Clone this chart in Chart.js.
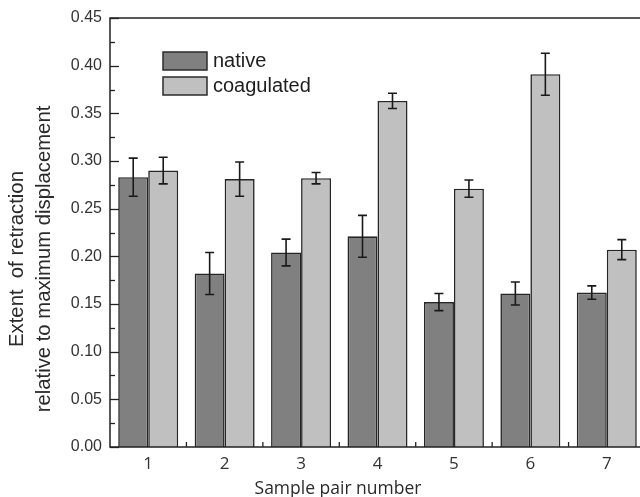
<!DOCTYPE html>
<html>
<head>
<meta charset="utf-8">
<script src="https://cdn.jsdelivr.net/npm/chart.js@4"></script>
<style>
  html, body { margin: 0; padding: 0; background: #fff; overflow: hidden; }
  #wrap { width: 640px; height: 497px; overflow: hidden; }
</style>
</head>
<body>
<div id="wrap"><canvas id="chart" width="650" height="497"></canvas></div>
<script>
const pairLabels = [ '1', '2', '3', '4', '5', '6', '7' ]
const nativeValues = [ 0.283, 0.182, 0.204, 0.221, 0.152, 0.161, 0.162 ]
const nativeErrors = [ 0.020, 0.022, 0.014, 0.022, 0.009, 0.012, 0.007 ]
const coagValues = [ 0.290, 0.281, 0.282, 0.363, 0.271, 0.391, 0.207 ]
const coagErrors = [ 0.014, 0.018, 0.006, 0.008, 0.009, 0.022, 0.0105 ]
const yTitle = [ 'Extent  of retraction', 'relative to maximum displacement' ]
const xTitle = 'Sample pair number'

// error bars, inward ticks, frame, axis titles and legend box
const extras = {
  id: 'extras',
  afterDatasetsDraw (chart) {
    const ctx = chart.ctx
    const { x, y } = chart.scales
    const area = chart.chartArea
    ctx.save()
    ctx.strokeStyle = '#1a1a1a'
    ctx.lineWidth = 1.6
    chart.data.datasets.forEach((ds, i) => {
      const meta = chart.getDatasetMeta(i)
      meta.data.forEach((bar, j) => {
        const v = ds.data[j], e = ds.errors[j]
        const top = y.getPixelForValue(v + e)
        const bot = y.getPixelForValue(v - e)
        ctx.beginPath()
        ctx.moveTo(bar.x, top); ctx.lineTo(bar.x, bot)
        ctx.moveTo(bar.x - 4.5, top); ctx.lineTo(bar.x + 4.5, top)
        ctx.moveTo(bar.x - 4.5, bot); ctx.lineTo(bar.x + 4.5, bot)
        ctx.stroke()
      })
    })

    // frame
    ctx.strokeStyle = '#222'
    ctx.lineWidth = 1.5
    ctx.strokeRect(area.left, area.top, area.right - area.left, area.bottom - area.top)

    // y ticks pointing inward
    ctx.lineWidth = 1.3
    for (let k = 0; k <= 18; k++) {
      const py = Math.round(y.getPixelForValue(k * 0.025)) + 0.5
      const len = k % 2 === 0 ? 9 : 5
      ctx.beginPath()
      ctx.moveTo(area.left, py); ctx.lineTo(area.left + len, py)
      ctx.stroke()
    }
    // x minor ticks between pairs
    for (let k = 0; k < pairLabels.length - 1; k++) {
      const px = (x.getPixelForValue(k) + x.getPixelForValue(k + 1)) / 2
      ctx.beginPath()
      ctx.moveTo(px, area.bottom); ctx.lineTo(px, area.bottom - 5)
      ctx.stroke()
    }

    // axis titles
    ctx.fillStyle = '#2a2a2a'
    ctx.textAlign = 'center'
    ctx.textBaseline = 'alphabetic'
    ctx.font = '17.5px "Open Sans", sans-serif'
    ctx.fillText(xTitle, 338, 494)
    ctx.font = '20.3px Arial, "Liberation Sans", sans-serif'
    yTitle.forEach((line, i) => {
      ctx.save()
      ctx.translate(23 + i * 27, 259)
      ctx.rotate(-Math.PI / 2)
      ctx.fillText(line, 0, 0)
      ctx.restore()
    })

    // legend
    const items = chart.data.datasets
    ctx.textAlign = 'left'
    ctx.font = '20px Arial, "Liberation Sans", sans-serif'
    ctx.textBaseline = 'middle'
    items.forEach((ds, i) => {
      const by = 52 + i * 25
      ctx.fillStyle = ds.backgroundColor
      ctx.fillRect(163, by, 44, 18)
      ctx.strokeStyle = '#2b2b2b'
      ctx.lineWidth = 1.5
      ctx.strokeRect(163, by, 44, 18)
      ctx.fillStyle = '#1e1e1e'
      ctx.fillText(ds.label, 213, by + 9)
    })
    ctx.restore()
  }
}

new Chart(document.querySelector('#chart'), {
  type: 'bar',
  plugins: [extras],
  data: {
    labels: pairLabels,
    datasets: [{
      label: 'native',
      data: nativeValues,
      errors: nativeErrors,
      backgroundColor: '#808080',
      borderColor: '#262626',
      borderWidth: 1.6
    }, {
      label: 'coagulated',
      data: coagValues,
      errors: coagErrors,
      backgroundColor: '#c0c0c0',
      borderColor: '#262626',
      borderWidth: 1.6
    }]
  },
  options: {
    responsive: false,
    animation: false,
    barPercentage: 1,
    categoryPercentage: 0.785,
    layout: {
      padding: { top: 18, right: 5, left: 0, bottom: 0 }
    },
    scales: {
      x: {
        grid: { display: false, drawTicks: false },
        border: { display: false },
        ticks: {
          color: '#333',
          padding: 7,
          font: { family: '"Open Sans", sans-serif', size: 17 }
        },
        afterFit (scale) { scale.height = 50 }
      },
      y: {
        min: 0,
        max: 0.45,
        grid: { display: false, drawTicks: false },
        border: { display: false },
        ticks: {
          stepSize: 0.05,
          color: '#333',
          padding: 8,
          font: { family: 'Arial, "Liberation Sans", sans-serif', size: 16 },
          callback: (v) => v.toFixed(2)
        },
        afterFit (scale) { scale.width = 110 }
      }
    },
    plugins: {
      legend: { display: false },
      tooltip: { enabled: false }
    }
  }
})
</script>
</body>
</html>
